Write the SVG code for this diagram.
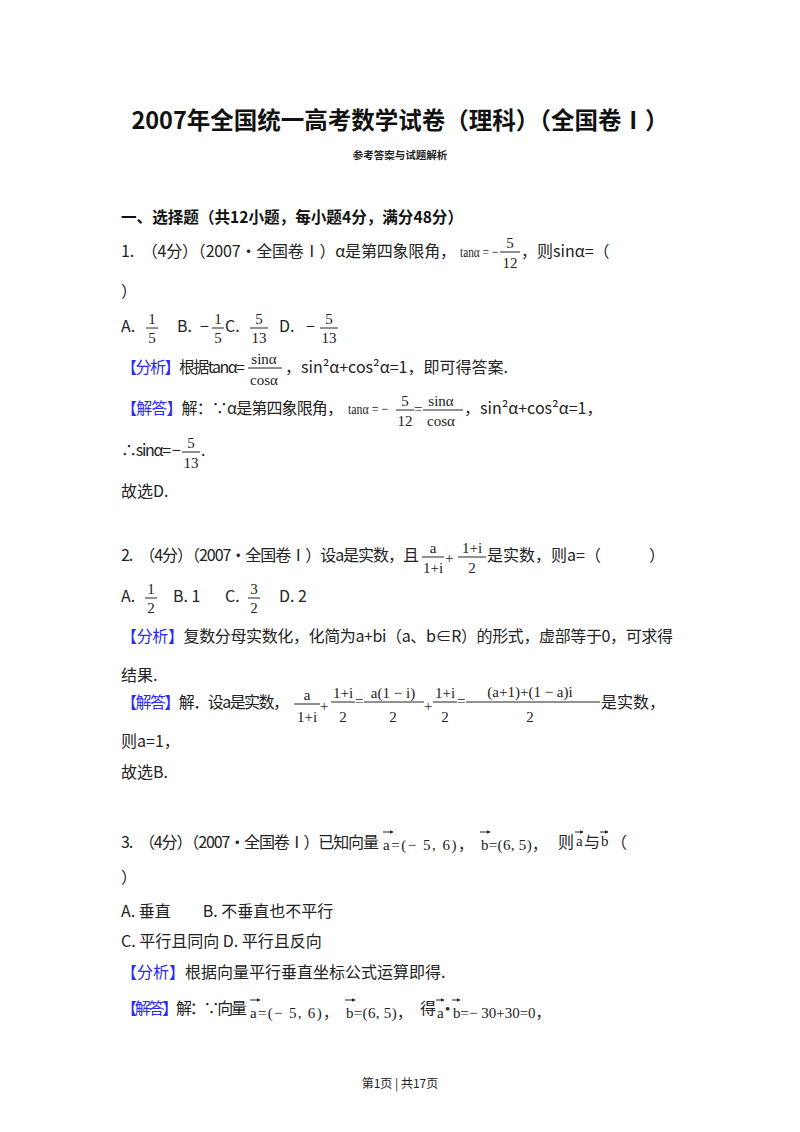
<svg xmlns="http://www.w3.org/2000/svg" width="800" height="1132" viewBox="0 0 800 1132">
<defs>
<marker id="ar" markerWidth="4" markerHeight="4" refX="3.5" refY="2" orient="auto"><path d="M0,0 L4,2 L0,4 z" fill="#222"/></marker>
</defs>
<style>
text{font-family:"Noto Sans CJK SC","Liberation Sans",sans-serif;font-size:16px;fill:#222}
.m{font-family:"Liberation Serif","Noto Sans CJK SC",serif;font-size:15px}
.b{fill:#2a2af0}
.t{font-weight:bold;font-size:23.5px;fill:#111}
.h{font-weight:bold;font-size:16px;fill:#111}
.c{text-anchor:middle}
line{stroke:#222;stroke-width:1}
.v{stroke:#222;stroke-width:1;marker-end:url(#ar)}
</style>
<rect width="800" height="1132" fill="#fff"/>
<text class="t c" x="400" y="129">2007年全国统一高考数学试卷（理科）（全国卷Ⅰ）</text>
<text class="c" x="400" y="159" style="font-size:10.5px;font-weight:bold">参考答案与试题解析</text>
<text class="h" x="121" y="223" textLength="342" lengthAdjust="spacingAndGlyphs">一、选择题（共12小题，每小题4分，满分48分）</text>

<text x="121" y="257" textLength="335">1.　（4分）（2007•全国卷Ⅰ）α是第四象限角，</text>
<text class="m" x="460" y="257" textLength="38" lengthAdjust="spacingAndGlyphs">tanα = −</text>
<text class="m c" x="510" y="248">5</text><line x1="500" y1="252" x2="520" y2="252"/><text class="m c" x="510" y="268">12</text>
<text x="521" y="257">，则sinα=（</text>
<text x="121" y="297">）</text>

<text x="121" y="332">A.</text>
<text class="m c" x="152" y="324">1</text><line x1="146" y1="328" x2="158" y2="328"/><text class="m c" x="152" y="343">5</text>
<text x="177" y="332">B.</text><text x="200" y="332">−</text>
<text class="m c" x="218" y="324">1</text><line x1="212" y1="328" x2="224" y2="328"/><text class="m c" x="218" y="343">5</text>
<text x="225" y="332">C.</text>
<text class="m c" x="259" y="324">5</text><line x1="250" y1="328" x2="268" y2="328"/><text class="m c" x="259" y="343">13</text>
<text x="279" y="332">D.</text><text x="306" y="332">−</text>
<text class="m c" x="329" y="324">5</text><line x1="320" y1="328" x2="338" y2="328"/><text class="m c" x="329" y="343">13</text>

<text x="121" y="373" textLength="124"><tspan class="b">【分析】</tspan>根据tanα=</text>
<text class="m c" x="264" y="364">sinα</text><line x1="248" y1="368" x2="282" y2="368"/><text class="m c" x="264" y="385">cosα</text>
<text x="285" y="373">，sin²α+cos²α=1，即可得答案.</text>

<text x="121" y="414" textLength="222"><tspan class="b">【解答】</tspan>解：∵α是第四象限角，</text>
<text class="m" x="348" y="414" textLength="40" lengthAdjust="spacingAndGlyphs">tanα = −</text>
<text class="m c" x="405" y="406">5</text><line x1="396" y1="410" x2="414" y2="410"/><text class="m c" x="405" y="426">12</text>
<text class="m" x="414" y="414">=</text>
<text class="m c" x="441" y="406">sinα</text><line x1="423" y1="410" x2="463" y2="410"/><text class="m c" x="441" y="426">cosα</text>
<text x="464" y="414">，sin²α+cos²α=1，</text>

<text x="121" y="456" textLength="60">∴sinα= −</text>
<text class="m c" x="191" y="448">5</text><line x1="182" y1="452" x2="200" y2="452"/><text class="m c" x="191" y="468">13</text>
<text x="201" y="456">.</text>
<text x="121" y="497">故选D.</text>

<text x="121" y="561" textLength="298">2.　（4分）（2007•全国卷Ⅰ）设a是实数，且</text>
<text class="m c" x="433" y="553">a</text><line x1="422" y1="557" x2="444" y2="557"/><text class="m c" x="433" y="573">1+i</text>
<text class="m" x="445" y="563">+</text>
<text class="m c" x="472" y="553">1+i</text><line x1="458" y1="557" x2="486" y2="557"/><text class="m c" x="472" y="573">2</text>
<text x="487" y="561">是实数，则a=（　　　）</text>

<text x="121" y="602">A.</text>
<text class="m c" x="151" y="594">1</text><line x1="145" y1="598" x2="157" y2="598"/><text class="m c" x="151" y="613">2</text>
<text x="173" y="602">B.  1</text>
<text x="225" y="602">C.</text>
<text class="m c" x="254" y="594">3</text><line x1="248" y1="598" x2="260" y2="598"/><text class="m c" x="254" y="613">2</text>
<text x="279" y="602">D.  2</text>

<text x="121" y="642" textLength="552"><tspan class="b">【分析】</tspan>复数分母实数化，化简为a+bi（a、b∈R）的形式，虚部等于0，可求得</text>
<text x="121" y="681">结果.</text>

<text x="121" y="708" textLength="168"><tspan class="b">【解答】</tspan>解．设a是实数，</text>
<text class="m c" x="307" y="700">a</text><line x1="294" y1="704" x2="320" y2="704"/><text class="m c" x="307" y="722">1+i</text>
<text class="m" x="320" y="711">+</text>
<text class="m c" x="343" y="698">1+i</text><line x1="331" y1="702" x2="355" y2="702"/><text class="m c" x="343" y="722">2</text>
<text class="m" x="355" y="706">=</text>
<text class="m c" x="393" y="698">a(1 − i)</text><line x1="364" y1="702" x2="424" y2="702"/><text class="m c" x="393" y="722">2</text>
<text class="m" x="424" y="711">+</text>
<text class="m c" x="445" y="698">1+i</text><line x1="433" y1="702" x2="457" y2="702"/><text class="m c" x="445" y="722">2</text>
<text class="m" x="457" y="706">=</text>
<text class="m c" x="530" y="697">(a+1)+(1 − a)i</text><line x1="466" y1="702" x2="600" y2="702"/><text class="m c" x="530" y="722">2</text>
<text x="601" y="708">是实数，</text>
<text x="121" y="747">则a=1，</text>
<text x="121" y="778">故选B.</text>

<text x="121" y="848" textLength="258">3.　（4分）（2007•全国卷Ⅰ）已知向量</text>
<line class="v" x1="383" y1="832" x2="393" y2="832"/>
<text class="m" x="383" y="850" textLength="90">a=(− 5, 6)，</text>
<line class="v" x1="480" y1="832" x2="490" y2="832"/>
<text class="m" x="481" y="850" textLength="66">b=(6, 5)，</text>
<text x="558" y="848">则</text>
<line class="v" x1="575" y1="832" x2="583" y2="832"/>
<text class="m" x="576" y="846">a</text>
<text x="584" y="848">与</text>
<line class="v" x1="600" y1="832" x2="608" y2="832"/>
<text class="m" x="601" y="846">b</text>
<text x="611" y="848">（</text>
<text x="121" y="883">）</text>
<text x="121" y="917">A.  垂直　　B.  不垂直也不平行</text>
<text x="121" y="947">C.  平行且同向  D.  平行且反向</text>
<text x="121" y="978"><tspan class="b">【分析】</tspan>根据向量平行垂直坐标公式运算即得.</text>
<text x="121" y="1014" textLength="126"><tspan class="b">【解答】</tspan>解：∵向量</text>
<line class="v" x1="250" y1="1000" x2="260" y2="1000"/>
<text class="m" x="250" y="1018" textLength="88">a=(− 5, 6)，</text>
<line class="v" x1="345" y1="1000" x2="355" y2="1000"/>
<text class="m" x="346" y="1018" textLength="66">b=(6, 5)，</text>
<text x="420" y="1014">得</text>
<line class="v" x1="436" y1="1000" x2="444" y2="1000"/>
<text class="m" x="437" y="1018">a</text>
<text class="m" x="445" y="1014">•</text>
<line class="v" x1="452" y1="1000" x2="460" y2="1000"/>
<text class="m" x="453" y="1018">b=− 30+30=0，</text>

<text class="c" x="400" y="1088" style="font-size:12px">第1页 | 共17页</text>
</svg>
